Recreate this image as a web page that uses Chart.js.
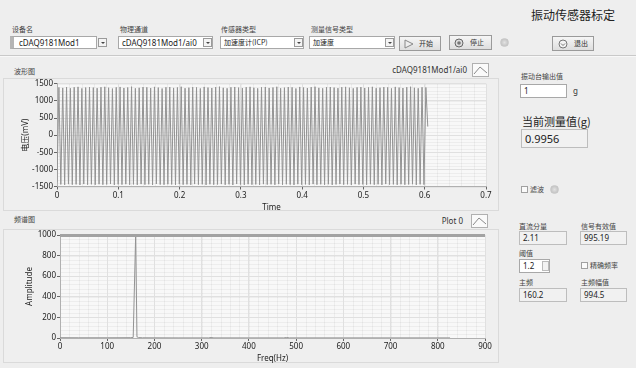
<!DOCTYPE html>
<html>
<head>
<meta charset="utf-8">
<script src="https://cdn.jsdelivr.net/npm/chart.js@4.4.1/dist/chart.umd.min.js"></script>
<style>
  body { margin:0; width:636px; height:368px; background:#eeeeee; overflow:hidden;
         font-family:"Noto Sans","Noto Sans CJK SC",sans-serif; color:#333; position:relative; }
  .abs { position:absolute; }
  .lbl { position:absolute; font-family:"Noto Sans CJK SC",sans-serif; font-size:7px; line-height:8px; color:#444; white-space:nowrap; }
  .box { position:absolute; box-sizing:border-box; border:1px solid #a8a8a8; background:#fff;
         font-size:8px; line-height:11px; padding-left:3px; color:#222; white-space:nowrap; }
  .ind { background:#f1f1f1; border-color:#bdbdbd; }
  .arrow { position:absolute; box-sizing:border-box; width:9px; height:9px; border:1px solid #9a9a9a; background:#f4f4f4; }
  .arrow:after { content:""; position:absolute; left:2px; top:3px; border-left:2px solid transparent; border-right:2px solid transparent; border-top:2px solid #444; }
  .btn { position:absolute; box-sizing:border-box; border:1px solid #9a9a9a; background:linear-gradient(#f6f6f6,#dedede);
         font-family:"Noto Sans CJK SC",sans-serif; font-size:7px; line-height:13px; color:#333; }
  .led { position:absolute; width:9px; height:9px; border-radius:50%; background:radial-gradient(#e2e2e2,#b9b9b9); border:1px solid #c8c8c8; box-sizing:border-box; }
  .chk { position:absolute; width:7px; height:7px; box-sizing:border-box; border:1px solid #a0a0a0; background:#fafafa; }
  .panel { position:absolute; box-sizing:border-box; border:1px solid #dadada; background:#efefef; }
  canvas { position:absolute; }
</style>
</head>
<body>
<!-- top row -->
<div class="lbl" style="left:12px;top:25px">设备名</div>
<div class="box" style="left:10px;top:36px;width:87px;height:13px;border-left:4px solid #b5b5b5;padding-left:5px">cDAQ9181Mod1</div>
<div class="arrow" style="left:98px;top:38px"></div>
<div class="lbl" style="left:120px;top:25px">物理通道</div>
<div class="box" style="left:118px;top:36px;width:95px;height:13px">cDAQ9181Mod1/ai0</div>
<div class="arrow" style="left:203px;top:38px"></div>
<div class="lbl" style="left:221px;top:25px">传感器类型</div>
<div class="box" style="left:220px;top:36px;width:84px;height:13px;font-family:'Noto Sans CJK SC';font-size:7px">加速度计(ICP)</div>
<div class="arrow" style="left:294px;top:38px"></div>
<div class="lbl" style="left:311px;top:25px">测量信号类型</div>
<div class="box" style="left:309px;top:36px;width:86px;height:13px;font-family:'Noto Sans CJK SC';font-size:7px">加速度</div>
<div class="arrow" style="left:385px;top:38px"></div>
<div class="btn" style="left:399px;top:36px;width:42px;height:15px">
  <svg class="abs" style="left:4px;top:2px" width="10" height="10"><polygon points="1,1 9,5 1,9" fill="#eee" stroke="#888"/></svg>
  <span class="abs" style="left:19px;top:0">开始</span></div>
<div class="btn" style="left:449px;top:35px;width:43px;height:15px">
  <svg class="abs" style="left:4px;top:2px" width="10" height="10"><circle cx="5" cy="5" r="4" fill="#ddd" stroke="#666"/><circle cx="5" cy="5" r="1.8" fill="#777"/></svg>
  <span class="abs" style="left:20px;top:0">停止</span></div>
<div class="led" style="left:500px;top:38px"></div>
<div class="abs" style="left:531px;top:7px;font-family:'Noto Sans CJK SC';font-size:12px;line-height:16px;color:#222">振动传感器标定</div>
<div class="btn" style="left:552px;top:36px;width:42px;height:15px">
  <svg class="abs" style="left:5px;top:2px" width="10" height="10"><circle cx="5" cy="5" r="4" fill="#f4f4f4" stroke="#777"/><polyline points="3,4.5 5,6.5 7,4.5" fill="none" stroke="#777"/></svg>
  <span class="abs" style="left:21px;top:0">退出</span></div>
<div class="abs" style="left:0;top:55px;width:636px;height:1px;background:#c9c9c9"></div>
<div class="abs" style="left:0;top:56px;width:636px;height:1px;background:#f8f8f8"></div>

<!-- waveform panel -->
<div class="panel" style="left:3px;top:78px;width:496px;height:133px"></div>
<div class="lbl" style="left:14px;top:67px">波形图</div>
<div class="abs" style="right:169px;top:64px;font-size:8px;line-height:11px;color:#333;white-space:nowrap">cDAQ9181Mod1/ai0</div>
<svg class="abs" style="left:472px;top:63px" width="17" height="14"><rect x="0.5" y="0.5" width="16" height="13" fill="#fafafa" stroke="#b0b0b0"/><polyline points="2,11 8,4 15,10" fill="none" stroke="#8a8a8a"/></svg>
<canvas id="wave" width="494" height="136" style="left:4px;top:78px"></canvas>

<!-- spectrum panel -->
<div class="panel" style="left:3px;top:229px;width:496px;height:134px"></div>
<div class="lbl" style="left:14px;top:215px">频谱图</div>
<div class="abs" style="right:173px;top:215px;font-size:8px;line-height:11px;color:#333">Plot 0</div>
<svg class="abs" style="left:471px;top:214px" width="17" height="14"><rect x="0.5" y="0.5" width="16" height="13" fill="#fafafa" stroke="#b0b0b0"/><polyline points="2,11 8,4 15,10" fill="none" stroke="#8a8a8a"/></svg>
<canvas id="spec" width="494" height="139" style="left:4px;top:226px"></canvas>

<!-- right column -->
<div class="lbl" style="left:521px;top:72px">振动台输出值</div>
<div class="box" style="left:520px;top:84px;width:47px;height:14px;line-height:12px">1</div>
<div class="abs" style="left:573px;top:85px;font-size:8px;line-height:11px">g</div>
<div class="abs" style="left:522px;top:114px;font-family:'Noto Sans CJK SC';font-size:11px;line-height:15px;color:#222">当前测量值(g)</div>
<div class="box ind" style="left:521px;top:129px;width:67px;height:19px;font-size:11px;line-height:17px;padding-left:3px">0.9956</div>
<div class="chk" style="left:521px;top:186px"></div>
<div class="lbl" style="left:530px;top:185px">滤波</div>
<div class="led" style="left:550px;top:185px"></div>

<div class="lbl" style="left:519px;top:222px">直流分量</div>
<div class="box ind" style="left:519px;top:231px;width:48px;height:14px">2.11</div>
<div class="lbl" style="left:581px;top:222px">信号有效值</div>
<div class="box ind" style="left:580px;top:231px;width:47px;height:14px">995.19</div>
<div class="lbl" style="left:519px;top:249px">阈值</div>
<div class="box" style="left:519px;top:259px;width:31px;height:14px">1.2</div>
<div class="abs" style="left:542px;top:261px;width:7px;height:10px;box-sizing:border-box;border:1px solid #bbb;background:#f3f3f3"></div>
<div class="chk" style="left:581px;top:262px"></div>
<div class="lbl" style="left:590px;top:261px">精确频率</div>
<div class="lbl" style="left:519px;top:278px">主频</div>
<div class="box ind" style="left:519px;top:288px;width:48px;height:14px">160.2</div>
<div class="lbl" style="left:581px;top:278px">主频幅值</div>
<div class="box ind" style="left:580px;top:288px;width:47px;height:14px">994.5</div>

<script>
const waveT0 = 0;
const waveEnd = 0.605;
const waveY = [-1380,
  1395,-1440,1380,-1452,1402,-1431,1370,-1446,1398,-1438,1410,-1455,1365,-1429,1390,-1448,1405,-1436,1388,-1450,
  1372,-1433,1400,-1447,1412,-1441,1385,-1428,1360,-1453,1396,-1437,1408,-1444,1378,-1432,1392,-1449,1415,-1439,
  1368,-1451,1383,-1430,1404,-1445,1397,-1436,1375,-1454,1410,-1427,1389,-1443,1362,-1448,1399,-1434,1406,-1440,
  1380,-1452,1393,-1431,1414,-1446,1371,-1438,1386,-1450,1402,-1429,1395,-1444,1364,-1437,1409,-1453,1390,-1435,
  1377,-1447,1403,-1441,1416,-1430,1382,-1449,1369,-1436,1398,-1455,1407,-1428,1388,-1442,1374,-1451,1401,-1433,
  1411,-1446,1384,-1439,1366,-1452,1397,-1431,1405,-1444,1379,-1437,1392,-1450,1413,-1429,1370,-1448,1387,-1435,
  1404,-1443,1396,-1454,1363,-1432,1408,-1445,1391,-1438,1376,-1451,1402,-1430,1415,-1447,1381,-1436,1368,-1449,
  1399,-1434,1406,-1452,1389,-1440,1373,-1428,1400,-1446,1410,-1437,1385,-1453,1367,-1431,1396,-1444,1404,-1439,
  1378,-1450,1393,-1433,1412,-1447,1372,-1436,1386,-1452,1403,-1429,1394,-1445,1365,-1438,1409,-1451,1390,-1434,
  1377,-1448,1401,-1440,1414,-1432,1383,-1453,1369,-1437,1398,-1446,
  1392, 250];

// spectrum
const specFreq = [0, 40, 100, 150, 155, 160.2, 163, 166, 175, 250, 315, 320, 326, 400, 474, 480, 486, 600, 700, 826];
const specAmp  = [3, 2,  2,   3,   6,   994.5, 12,  4,   2,   1,   1,   5,   1,   1,   1,   5,   1,   1,   1,   1];

const waveTicksX = [0, 0.1, 0.2, 0.3, 0.4, 0.5, 0.6, 0.7];
const specTicksX = [0, 100, 200, 300, 400, 500, 600, 700, 800, 900];

const tickFont = { family: 'Noto Sans', size: 8 };
const dt = (waveEnd - waveT0) / (waveY.length - 1);
const wavePts = waveY.map((v, i) => ({ x: waveT0 + i * dt, y: v }));
const specPts = specFreq.map((f, i) => ({ x: f, y: specAmp[i] }));

const plotBg = {
  id: 'plotBg',
  beforeDraw(chart, args, o) {
    const { ctx, chartArea: a, scales } = chart;
    ctx.save();
    ctx.fillStyle = '#f8f8f8';
    ctx.fillRect(a.left, a.top, a.right - a.left, a.bottom - a.top);
    // faint minor grid
    ctx.strokeStyle = 'rgba(0,0,0,0.045)';
    ctx.lineWidth = 1;
    const xs = scales.x, ys = scales.y;
    const xStep = o.xMinor, yStep = o.yMinor;
    for (let v = xs.min; v <= xs.max + 1e-9; v += xStep) {
      const px = Math.round(xs.getPixelForValue(v)) + 0.5;
      ctx.beginPath(); ctx.moveTo(px, a.top); ctx.lineTo(px, a.bottom); ctx.stroke();
    }
    for (let v = ys.min; v <= ys.max + 1e-9; v += yStep) {
      const py = Math.round(ys.getPixelForValue(v)) + 0.5;
      ctx.beginPath(); ctx.moveTo(a.left, py); ctx.lineTo(a.right, py); ctx.stroke();
    }
    ctx.restore();
  }
};

const topBar = {
  id: 'topBar',
  afterDatasetsDraw(chart, args, o) {
    if (!o.show) return;
    const { ctx, chartArea: a } = chart;
    ctx.save();
    ctx.fillStyle = '#a2a2a2';
    ctx.fillRect(a.left, a.top - 1, a.right - a.left, 3);
    ctx.restore();
  }
};

function addPlot(id, pts, xMax, xTicks, yMin, yMax, yStep, xTitle, yTitle, pad, yWidth, xHeight, minor, bar) {
  new Chart(document.getElementById(id), {
    type: 'line',
    data: { datasets: [{ data: pts, borderColor: '#939393', borderWidth: 1, pointRadius: 0, tension: 0 }] },
    plugins: [plotBg, topBar],
    options: {
      responsive: false,
      animation: false,
      layout: { padding: pad },
      plugins: { legend: { display: false }, tooltip: { enabled: false },
                 plotBg: minor, topBar: { show: bar } },
      scales: {
        x: {
          type: 'linear', min: 0, max: xMax,
          afterBuildTicks: s => { s.ticks = xTicks.map(v => ({ value: v })); },
          afterFit: s => { s.height = xHeight; },
          ticks: { font: tickFont, color: '#222', padding: 1, maxRotation: 0, callback: v => String(v) },
          grid: { color: '#e0e0e0', tickLength: 3, tickColor: '#666' },
          border: { color: '#b0b0b0' },
          title: { display: true, text: xTitle, font: tickFont, color: '#222', padding: { top: 0, bottom: 1 } }
        },
        y: {
          min: yMin, max: yMax,
          afterFit: s => { s.width = yWidth; },
          ticks: { stepSize: yStep, font: tickFont, color: '#222', padding: 1, callback: v => String(v) },
          grid: { color: '#e0e0e0', tickLength: 3, tickColor: '#666' },
          border: { color: '#b0b0b0' },
          title: { display: true, text: yTitle, font: { family: 'Noto Sans, Noto Sans CJK SC', size: 8 }, color: '#222', padding: { top: 1, bottom: 0 } }
        }
      }
    }
  });
}

addPlot('wave', wavePts, 0.7, waveTicksX, -1500, 1500, 500, 'Time', '电压(mV)',
        { top: 5, right: 12, left: 16, bottom: 0 }, 37, 27.5, { xMinor: 0.02, yMinor: 100 }, false);
addPlot('spec', specPts, 900, specTicksX, 0, 1000, 200, 'Freq(Hz)', 'Amplitude',
        { top: 9, right: 13, left: 20, bottom: 0 }, 36, 27, { xMinor: 20, yMinor: 40 }, true);
</script>
</body>
</html>
